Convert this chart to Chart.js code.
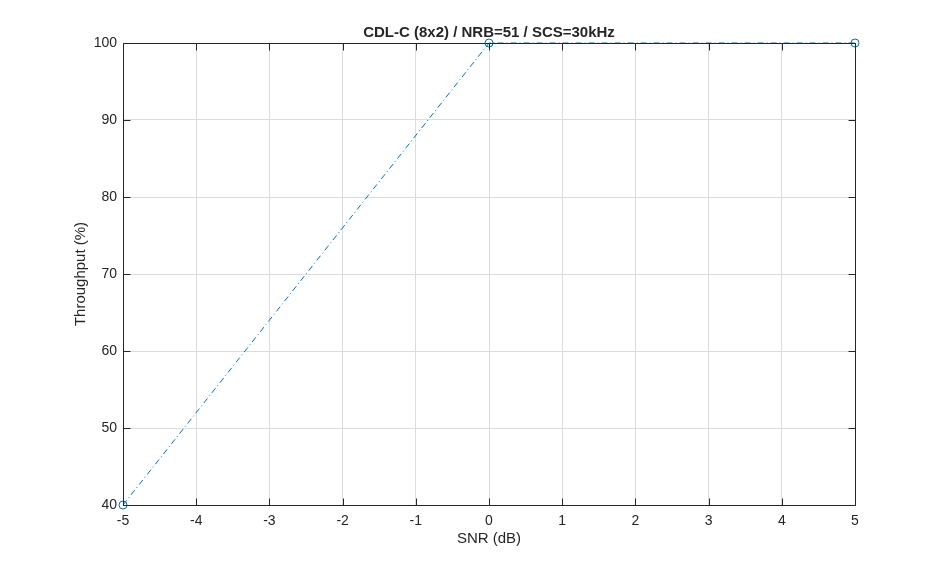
<!DOCTYPE html>
<html>
<head>
<meta charset="utf-8">
<script src="https://cdn.jsdelivr.net/npm/chart.js@4.4.1/dist/chart.umd.min.js"></script>
<style>
  html, body { margin: 0; padding: 0; background: #fff; }
  #wrap { width: 946px; height: 569px; }
</style>
</head>
<body>
<div id="wrap"><canvas id="chartThroughput" width="946" height="569"></canvas></div>
<script>
// data
var snrValues = [-5, 0, 5];
var throughputValues = [40, 100, 100];
var xTicks = [-5, -4, -3, -2, -1, 0, 1, 2, 3, 4, 5];
var yTicks = [40, 50, 60, 70, 80, 90, 100];

var axisColor = '#262626';
var lineColor = '#0072BD';
var fontFamily = '"Liberation Sans", Arial, Helvetica, sans-serif';

// matlab-style box with inward ticks on all four sides
var boxTicks = {
    id: 'boxTicks',
    afterDraw: function (chart) {
        var ctx = chart.ctx;
        var xs = chart.scales.x;
        var ys = chart.scales.y;
        var len = 7;
        var l = Math.round(xs.getPixelForValue(xTicks[0])) + 0.5;
        var r = Math.round(xs.getPixelForValue(xTicks[xTicks.length - 1])) + 0.5;
        var b = Math.round(ys.getPixelForValue(yTicks[0])) + 0.5;
        var t = Math.round(ys.getPixelForValue(yTicks[yTicks.length - 1])) + 0.5;
        ctx.save();
        ctx.strokeStyle = axisColor;
        ctx.lineWidth = 1;
        ctx.beginPath();
        ctx.rect(l, t, r - l, b - t);
        xTicks.forEach(function (v) {
            var px = Math.round(xs.getPixelForValue(v)) + 0.5;
            ctx.moveTo(px, b);
            ctx.lineTo(px, b - len);
            ctx.moveTo(px, t);
            ctx.lineTo(px, t + len);
        });
        yTicks.forEach(function (v) {
            var py = Math.round(ys.getPixelForValue(v)) + 0.5;
            ctx.moveTo(l, py);
            ctx.lineTo(l + len, py);
            ctx.moveTo(r, py);
            ctx.lineTo(r - len, py);
        });
        ctx.stroke();
        ctx.restore();
    }
};

var chartThroughput = new Chart(document.getElementById('chartThroughput'), {
    type: 'line',
    data: {
        datasets: [{
            label: 'Throughput',
            data: snrValues.map(function (x, i) { return { x: x, y: throughputValues[i] }; }),
            borderColor: lineColor,
            backgroundColor: 'rgba(0,0,0,0)',
            borderWidth: 1,
            borderDash: [6, 3, 1, 3],
            pointStyle: 'circle',
            pointRadius: 4,
            pointBorderWidth: 1,
            pointBorderColor: lineColor,
            pointBackgroundColor: 'rgba(0,0,0,0)',
            tension: 0,
            clip: false
        }]
    },
    options: {
        responsive: false,
        animation: false,
        layout: {
            padding: { top: 0, right: 91, bottom: 0, left: 0 }
        },
        plugins: {
            legend: { display: false },
            tooltip: { enabled: false },
            title: {
                display: true,
                fullSize: false,
                text: 'CDL-C (8x2) / NRB=51 / SCS=30kHz',
                color: axisColor,
                font: { family: fontFamily, size: 15, weight: 'bold', lineHeight: 1.2 },
                padding: { top: 24, bottom: 1 }
            }
        },
        scales: {
            x: {
                type: 'linear',
                min: -5,
                max: 5,
                afterFit: function (scale) { scale.height = 64; },
                afterBuildTicks: function (scale) {
                    scale.ticks = xTicks.map(function (v) { return { value: v }; });
                },
                ticks: {
                    color: axisColor,
                    padding: 8,
                    font: { family: fontFamily, size: 14 },
                    maxRotation: 0,
                    autoSkip: false
                },
                grid: { color: '#dcdcdc', drawTicks: false },
                border: { display: false },
                title: {
                    display: true,
                    text: 'SNR (dB)',
                    color: axisColor,
                    font: { family: fontFamily, size: 15, lineHeight: 1.2 },
                    padding: { top: 0, bottom: 21 }
                }
            },
            y: {
                min: 40,
                max: 100,
                afterFit: function (scale) { scale.width = 123; },
                afterBuildTicks: function (scale) {
                    scale.ticks = yTicks.map(function (v) { return { value: v }; });
                },
                ticks: {
                    color: axisColor,
                    padding: 6,
                    font: { family: fontFamily, size: 14 }
                },
                grid: { color: '#dcdcdc', drawTicks: false },
                border: { display: false },
                title: {
                    display: true,
                    text: 'Throughput (%)',
                    color: axisColor,
                    font: { family: fontFamily, size: 15, lineHeight: 1.2 },
                    padding: { top: 72, bottom: 0 }
                }
            }
        }
    },
    plugins: [boxTicks]
});
</script>
</body>
</html>
